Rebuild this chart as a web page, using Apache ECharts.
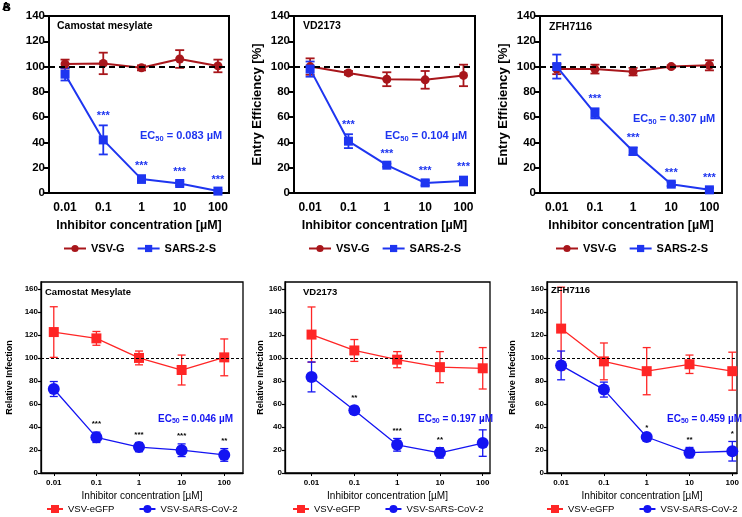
<!DOCTYPE html>
<html><head><meta charset="utf-8">
<script src="https://cdn.jsdelivr.net/npm/echarts@6/dist/echarts.min.js"></script>
<style>html,body{margin:0;padding:0;background:#fff}#c{width:742px;height:517px}</style>
</head><body><div id="c"></div>
<script>
// ---- data ----
const concLog = [-2, -1, 0, 1, 2];
const concLabels = ['0.01', '0.1', '1', '10', '100'];
const topYTicks = [0, 20, 40, 60, 80, 100, 120, 140];
const botYTicks = [0, 20, 40, 60, 80, 100, 120, 140, 160];

// top row (A): VSV-G / SARS-2-S
const camoVsvG = [102, 102.5, 99, 106, 100.5];
const camoVsvGErr = [3.5, 8.5, 2, 7, 5];
const camoSars = [94, 42, 11, 7.5, 1.5];
const camoSarsErr = [5, 11.5, 3, 1.5, 1];
const camoSarsStars = ['', '***', '***', '***', '***'];

const vdVsvG = [100, 95, 90, 89.5, 93];
const vdVsvGErr = [6.5, 1.5, 5.5, 7, 8.5];
const vdSars = [98, 41, 22, 8, 9.5];
const vdSarsErr = [6, 5.5, 1.2, 2, 3.5];
const vdSarsStars = ['', '***', '***', '***', '***'];

const zfhVsvG = [98, 98, 96, 100, 101];
const zfhVsvGErr = [4, 3.5, 3, 1, 4];
const zfhSars = [100, 63, 33, 7, 2.5];
const zfhSarsErr = [9.5, 4, 3, 1.5, 1.5];
const zfhSarsStars = ['', '***', '***', '***', '***'];

// bottom row (B): VSV-eGFP / VSV-SARS-CoV-2
const camoEgfp = [122.5, 117, 100, 89.5, 100.5];
const camoEgfpErr = [22, 6, 6, 13, 16];
const camoCov = [73, 31, 22.5, 19.8, 15.7];
const camoCovErr = [6.5, 4.5, 4, 5.5, 5.5];
const camoCovStars = ['', '***', '***', '***', '**'];

const vdEgfp = [120.3, 106.5, 98.5, 92, 91];
const vdEgfpErr = [24, 9.5, 7, 13.5, 18];
const vdCov = [83.5, 54.5, 24.5, 17.5, 26];
const vdCovErr = [13, 3.5, 5.5, 4.5, 11.5];
const vdCovStars = ['', '**', '***', '**', '*'];

const zfhEgfp = [125.5, 97, 88.5, 94.5, 88.5];
const zfhEgfpErr = [36, 16, 20.5, 8, 16.5];
const zfhCov = [93.5, 72.5, 31.3, 17.7, 18.9];
const zfhCovErr = [12.5, 6.5, 1, 4.5, 8.5];
const zfhCovStars = ['', '', '*', '**', '*'];

const panelTitles = ['Camostat mesylate', 'VD2173', 'ZFH7116', 'Camostat Mesylate', 'VD2173', 'ZFH7116'];
const ec50Values = ['0.083', '0.104', '0.307', '0.046', '0.197', '0.459'];

// ---- layout ----
const grids = [
  {left: 49, top: 16, width: 180, height: 177, xmin: -2.42, xmax: 2.29},
  {left: 294, top: 16, width: 181, height: 177, xmin: -2.42, xmax: 2.3},
  {left: 540, top: 16, width: 182, height: 177, xmin: -2.44, xmax: 2.33},
  {left: 41, top: 282, width: 202, height: 191, xmin: -2.3, xmax: 2.44},
  {left: 285, top: 282, width: 205, height: 191, xmin: -2.62, xmax: 2.17},
  {left: 547, top: 282, width: 190, height: 191, xmin: -2.33, xmax: 2.11}
];
const ecPos = [[140, 128], [385, 128], [633, 111], [158, 411], [418, 411], [667, 411]];
const titlePos = [[57, 21], [303, 21], [549, 22], [45, 287], [303, 287], [551, 285]];

const TOP_RED = '#A8161B', TOP_BLUE = '#1E35F0';
const BOT_RED = '#FF2626', BOT_BLUE = '#1414F2';
const FONT = 'Arial, "Liberation Sans", sans-serif';
const NARROW = '"Liberation Sans Narrow", "Arial Narrow", Arial, sans-serif';

const panels = [
  {red: camoVsvG, redErr: camoVsvGErr, blue: camoSars, blueErr: camoSarsErr, stars: camoSarsStars},
  {red: vdVsvG, redErr: vdVsvGErr, blue: vdSars, blueErr: vdSarsErr, stars: vdSarsStars},
  {red: zfhVsvG, redErr: zfhVsvGErr, blue: zfhSars, blueErr: zfhSarsErr, stars: zfhSarsStars},
  {red: camoEgfp, redErr: camoEgfpErr, blue: camoCov, blueErr: camoCovErr, stars: camoCovStars},
  {red: vdEgfp, redErr: vdEgfpErr, blue: vdCov, blueErr: vdCovErr, stars: vdCovStars},
  {red: zfhEgfp, redErr: zfhEgfpErr, blue: zfhCov, blueErr: zfhCovErr, stars: zfhCovStars}
];

const option = {
  animation: false,
  backgroundColor: '#fff',
  grid: [], xAxis: [], yAxis: [], series: [], legend: [], title: []
};

option.title.push({left: 2, top: 1, padding: 0, text: 'A', textStyle: {fontSize: 11, fontWeight: 'bold', fontFamily: FONT, color: '#000'}});
option.title.push({left: 3, top: 2, padding: 0, text: 'B', textStyle: {fontSize: 11, fontWeight: 'bold', fontFamily: FONT, color: '#000'}});

function errBarSeries(i, vals, errs, stars, color, isTop, z) {
  const data = concLog.map((x, k) => [x, vals[k], errs[k], stars ? stars[k] : '']);
  return {
    type: 'custom', xAxisIndex: i, yAxisIndex: i, z: z, silent: true,
    data: data,
    renderItem: function (params, api) {
      const x = api.value(0), y = api.value(1), e = api.value(2);
      const st = data[params.dataIndex][3];
      const pTop = api.coord([x, y + e]);
      const pBot = api.coord([x, y - e]);
      const cap = isTop ? 4.5 : 4;
      const lw = isTop ? 1.8 : 1.3;
      const children = [
        {type: 'line', shape: {x1: pTop[0], y1: pTop[1], x2: pBot[0], y2: pBot[1]}, style: {stroke: color, lineWidth: lw}},
        {type: 'line', shape: {x1: pTop[0] - cap, y1: pTop[1], x2: pTop[0] + cap, y2: pTop[1]}, style: {stroke: color, lineWidth: lw}},
        {type: 'line', shape: {x1: pBot[0] - cap, y1: pBot[1], x2: pBot[0] + cap, y2: pBot[1]}, style: {stroke: color, lineWidth: lw}}
      ];
      if (st) {
        children.push({type: 'text', x: pTop[0], y: pTop[1] - 4,
          style: {text: st, align: 'center', verticalAlign: 'bottom',
            fill: isTop ? TOP_BLUE : '#000',
            font: isTop ? 'bold 11px ' + FONT : 'bold 8px ' + FONT}});
      }
      return {type: 'group', children: children};
    }
  };
}

grids.forEach((g, i) => {
  const isTop = i < 3;
  const p = panels[i];
  const axisW = isTop ? 2 : 1.3;
  option.grid.push({left: g.left, top: g.top, width: g.width, height: g.height,
    show: true, borderColor: '#000', borderWidth: axisW, backgroundColor: 'transparent'});
  option.xAxis.push({
    gridIndex: i, type: 'value', min: g.xmin, max: g.xmax,
    splitLine: {show: false},
    axisLine: {show: true, onZero: false, lineStyle: {color: '#000', width: axisW}},
    axisTick: {show: !isTop, customValues: concLog, length: 3, lineStyle: {color: '#000', width: 1}},
    axisLabel: {customValues: concLog, formatter: v => concLabels[concLog.indexOf(Math.round(v))],
      color: '#000', fontFamily: FONT, fontWeight: 'bold', fontSize: isTop ? 12 : 8, margin: isTop ? 9 : 6},
    name: 'Inhibitor concentration [\u00b5M]', nameLocation: 'middle', nameGap: isTop ? 26 : 18,
    nameTextStyle: isTop ? {fontFamily: FONT, fontWeight: 'bold', fontSize: 12.5, color: '#000'}
                         : {fontFamily: NARROW, fontSize: 10, color: '#000'}
  });
  option.yAxis.push({
    gridIndex: i, type: 'value', min: 0, max: isTop ? 140 : 166, interval: 20,
    splitLine: {show: false},
    axisLine: {show: true, onZero: false, lineStyle: {color: '#000', width: axisW}},
    axisTick: {show: true, length: isTop ? 5 : 3, customValues: isTop ? topYTicks : botYTicks, lineStyle: {color: '#000', width: isTop ? 2 : 1.2}},
    axisLabel: {customValues: isTop ? topYTicks : botYTicks, color: '#000', fontFamily: FONT, fontWeight: 'bold',
      fontSize: isTop ? 11.5 : 8, margin: isTop ? 4 : 3},
    name: i === 0 ? '' : (isTop ? 'Entry Efficiency [%]' : 'Relative Infection'),
    nameLocation: 'middle', nameGap: isTop ? 30 : (i === 3 ? 27 : (i === 4 ? 17 : 30)),
    nameTextStyle: {fontFamily: FONT, fontWeight: 'bold', fontSize: isTop ? 13 : 9, color: '#000'}
  });
  const redName = isTop ? 'VSV-G' : 'VSV-eGFP';
  const blueName = isTop ? 'SARS-2-S' : 'VSV-SARS-CoV-2';
  const red = isTop ? TOP_RED : BOT_RED;
  const blue = isTop ? TOP_BLUE : BOT_BLUE;
  option.series.push(errBarSeries(i, p.red, p.redErr, null, red, isTop, 3));
  option.series.push(errBarSeries(i, p.blue, p.blueErr, p.stars, blue, isTop, 3));
  option.series.push({
    name: redName, type: 'line', xAxisIndex: i, yAxisIndex: i, z: 4,
    data: concLog.map((x, k) => [x, p.red[k]]),
    symbol: isTop ? 'circle' : 'rect', symbolSize: isTop ? 9 : 10,
    itemStyle: {color: red}, lineStyle: {color: red, width: isTop ? 2 : 1.3},
    markLine: {silent: true, symbol: 'none', label: {show: false},
      lineStyle: {color: '#000', type: isTop ? [6, 4] : [3, 2], width: isTop ? 1.8 : 1.1},
      data: [{yAxis: 100}]}
  });
  option.series.push({
    name: blueName, type: 'line', xAxisIndex: i, yAxisIndex: i, z: 5,
    data: concLog.map((x, k) => [x, p.blue[k]]),
    symbol: isTop ? 'rect' : 'circle', symbolSize: isTop ? 9 : 12,
    itemStyle: {color: blue}, lineStyle: {color: blue, width: isTop ? 2 : 1.3}
  });
  option.legend.push({
    data: [redName, blueName], left: g.left, top: isTop ? 243 : 504, width: 400, padding: 0,
    orient: 'horizontal', itemGap: isTop ? 12 : 24, itemWidth: isTop ? 22 : 16, itemHeight: isTop ? 9 : 10,
    textStyle: isTop ? {fontFamily: FONT, fontWeight: 'bold', fontSize: 11, color: '#000'}
                     : {fontFamily: NARROW, fontSize: 9.5, color: '#000'},
    selectedMode: false
  });
  option.title.push({left: titlePos[i][0], top: titlePos[i][1], padding: 0, text: panelTitles[i],
    textStyle: {fontFamily: FONT, fontWeight: 'bold', fontSize: isTop ? 10.5 : 9.5, color: '#000'}});
  option.title.push({left: ecPos[i][0], top: ecPos[i][1], padding: 0,
    text: '{a|EC}{s|50}{a| = ' + ec50Values[i] + ' \u00b5M}',
    textStyle: {rich: {
      a: {fontFamily: FONT, fontWeight: 'bold', fontSize: isTop ? 11 : 10, color: isTop ? TOP_BLUE : BOT_BLUE, lineHeight: 16},
      s: {fontFamily: FONT, fontWeight: 'bold', fontSize: isTop ? 7.5 : 7, color: isTop ? TOP_BLUE : BOT_BLUE, padding: [5, 0, 0, 0], lineHeight: 16}
    }}});
});

const chart = echarts.init(document.getElementById('c'), null, {renderer: 'canvas'});
chart.setOption(option);
// center each legend on its panel
option.legend.forEach((l, i) => {
  const view = chart.getViewOfComponentModel(chart.getModel().getComponent('legend', i));
  const rect = view.getContentGroup ? view.getContentGroup().getBoundingRect() : view.group.getBoundingRect();
  l.left = Math.round(Math.min(grids[i].left + grids[i].width / 2 - rect.width / 2, 740 - rect.width));
});
chart.setOption({legend: option.legend});
</script></body></html>
